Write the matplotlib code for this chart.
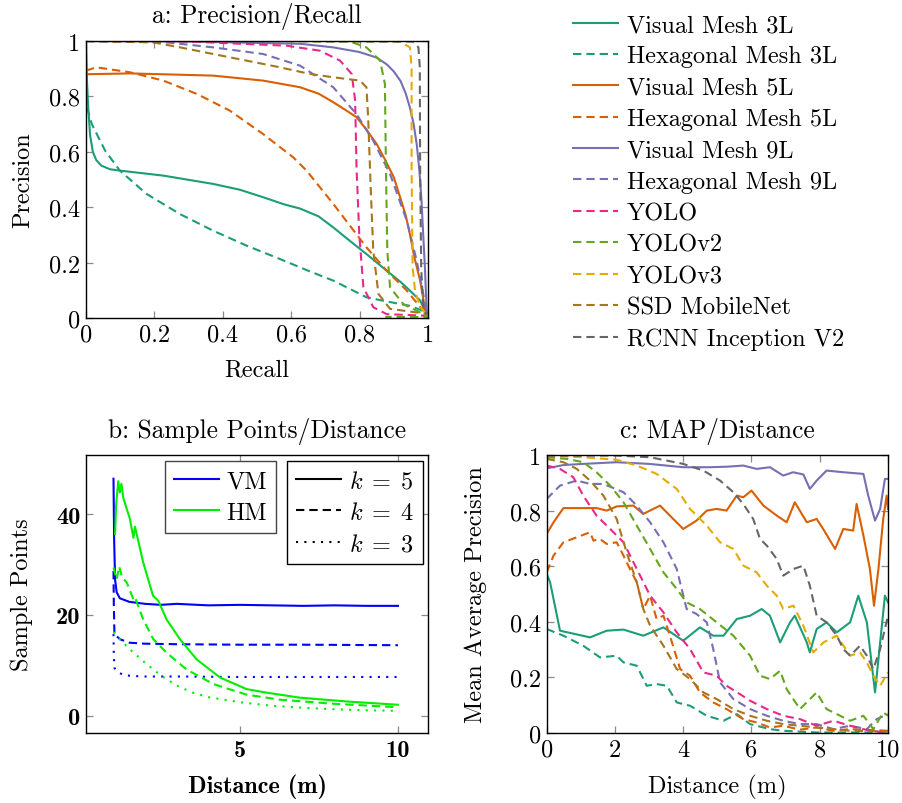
import numpy as np
import matplotlib
matplotlib.use("Agg")
from matplotlib import pyplot as plt

plt.rcParams['font.family'] = ['cmr10', 'DejaVu Serif']
plt.rcParams['mathtext.fontset'] = 'cm'
plt.rcParams['axes.unicode_minus'] = False
plt.rcParams['font.size'] = 17.5

FS = 17.5
FS_TITLE = 18.3

# ---------------- panel a: precision / recall ----------------
pr_vm3_r = [0.0, 0.003, 0.007, 0.012, 0.02, 0.03, 0.045, 0.07, 0.1, 0.226, 0.372, 0.45, 0.518, 0.58, 0.626,
            0.68, 0.723, 0.77, 0.82, 0.879, 0.92, 0.947, 0.977, 0.996]
pr_vm3_p = [1.0, 0.85, 0.75, 0.66, 0.60, 0.57, 0.55, 0.537, 0.532, 0.514, 0.484, 0.463, 0.436, 0.41, 0.395,
            0.367, 0.327, 0.28, 0.231, 0.171, 0.13, 0.099, 0.063, 0.014]
pr_hm3_r = [0.003, 0.017, 0.056, 0.099, 0.177, 0.275, 0.372, 0.47, 0.567, 0.655, 0.723, 0.82, 0.87, 0.947, 0.985]
pr_hm3_p = [0.76, 0.70, 0.604, 0.532, 0.448, 0.375, 0.315, 0.261, 0.213, 0.168, 0.135, 0.075, 0.062, 0.044, 0.026]
pr_vm5_r = [0.0, 0.0, 0.129, 0.372, 0.518, 0.626, 0.68, 0.723, 0.76, 0.791, 0.82, 0.85, 0.875, 0.9, 0.92,
            0.935, 0.947, 0.96, 0.977, 0.994]
pr_vm5_p = [0.95, 0.88, 0.883, 0.875, 0.857, 0.833, 0.81, 0.779, 0.75, 0.725, 0.68, 0.628, 0.57, 0.508, 0.43,
            0.37, 0.303, 0.22, 0.135, 0.014]
pr_hm5_r = [0.0, 0.03, 0.129, 0.226, 0.324, 0.42, 0.518, 0.606, 0.645, 0.723, 0.82, 0.879, 0.938, 0.986]
pr_hm5_p = [0.893, 0.905, 0.887, 0.857, 0.809, 0.749, 0.664, 0.58, 0.532, 0.412, 0.255, 0.171, 0.099, 0.026]
pr_vm9_r = [0.0, 0.3, 0.626, 0.723, 0.80, 0.85, 0.88, 0.90, 0.92, 0.935, 0.947, 0.958, 0.967, 0.975, 0.981,
            0.986, 0.991, 0.994, 0.997]
pr_vm9_p = [1.0, 0.998, 0.99, 0.977, 0.96, 0.94, 0.915, 0.89, 0.855, 0.81, 0.76, 0.70, 0.628, 0.53, 0.424,
            0.30, 0.183, 0.09, 0.014]
pr_hm9_r = [0.0, 0.236, 0.372, 0.518, 0.626, 0.723, 0.791, 0.84, 0.889, 0.938, 0.967, 0.986, 0.996]
pr_hm9_p = [1.0, 0.995, 0.977, 0.953, 0.911, 0.833, 0.736, 0.64, 0.52, 0.351, 0.207, 0.087, 0.02]
pr_yolo_r = [0.0, 0.3, 0.587, 0.684, 0.743, 0.777, 0.787, 0.791, 0.799, 0.811, 0.84, 0.879, 0.996]
pr_yolo_p = [1.0, 0.998, 0.983, 0.965, 0.929, 0.881, 0.785, 0.544, 0.303, 0.111, 0.039, 0.014, 0.008]
pr_yolo2_r = [0.0, 0.5, 0.772, 0.82, 0.86, 0.874, 0.877, 0.881, 0.889, 0.928, 0.977, 1.0, 0.875]
pr_yolo2_p = [1.0, 1.0, 0.998, 0.977, 0.929, 0.845, 0.544, 0.243, 0.111, 0.05, 0.02, 0.004, 0.004]
pr_yolo3_r = [0.0, 0.6, 0.918, 0.947, 0.952, 0.952, 0.955, 0.962, 0.977, 0.996]
pr_yolo3_p = [1.0, 1.0, 0.998, 0.977, 0.905, 0.544, 0.183, 0.099, 0.039, 0.014]
pr_ssd_r = [0.0, 0.197, 0.275, 0.372, 0.47, 0.567, 0.655, 0.723, 0.801, 0.82, 0.825, 0.832, 0.84, 0.855, 0.889, 0.967, 0.996]
pr_ssd_p = [1.0, 0.995, 0.977, 0.953, 0.929, 0.905, 0.881, 0.869, 0.857, 0.833, 0.725, 0.484, 0.243, 0.087, 0.033, 0.02, 0.014]
pr_rcnn_r = [0.0, 0.6, 0.957, 0.972, 0.976, 0.977, 0.98, 0.986, 0.996]
pr_rcnn_p = [1.0, 1.0, 0.998, 0.977, 0.905, 0.544, 0.183, 0.039, 0.014]

# ---------------- panel b: sample points / distance ----------------
sp_vm5_d = [1.0, 1.02, 1.05, 1.1, 1.2, 1.5, 2.0, 2.5, 3.0, 4.0, 5.0, 6.0, 7.0, 8.0, 9.0, 10.0]
sp_vm5_v = [47.0, 35.0, 27.0, 24.5, 23.3, 22.6, 22.2, 22.0, 22.2, 21.9, 22.0, 21.9, 21.8, 21.9, 21.8, 21.8]
sp_vm4_d = [1.0, 1.01, 1.03, 1.1, 1.2, 1.5, 2.0, 3.0, 5.0, 7.0, 10.0]
sp_vm4_v = [28.7, 22.0, 16.2, 15.8, 15.2, 14.5, 14.3, 14.2, 14.1, 14.1, 14.0]
sp_vm3_d = [1.0, 1.01, 1.03, 1.1, 1.3, 1.6, 2.0, 3.0, 5.0, 7.0, 10.0]
sp_vm3_v = [16.2, 12.0, 9.5, 8.9, 8.1, 7.9, 7.8, 7.8, 7.7, 7.7, 7.7]
sp_hm5_d = [1.05, 1.08, 1.15, 1.2, 1.25, 1.31, 1.52, 1.63, 1.68, 1.94, 2.25, 2.42, 2.68, 3.1, 3.63, 4.37, 5.21, 5.84, 6.9, 8.48, 10.0]
sp_hm5_v = [36.0, 41.6, 46.5, 44.3, 46.0, 43.2, 39.0, 35.3, 37.5, 30.4, 23.8, 22.8, 19.1, 15.2, 11.2, 7.6, 5.3, 4.6, 3.6, 2.8, 2.2]
sp_hm4_d = [1.0, 1.1, 1.18, 1.27, 1.42, 1.63, 1.68, 1.94, 2.26, 2.68, 3.31, 4.16, 5.21, 6.27, 7.95, 10.0]
sp_hm4_v = [29.4, 27.0, 29.6, 27.5, 26.4, 23.1, 23.5, 19.1, 15.2, 12.5, 9.2, 6.3, 4.2, 3.2, 2.4, 1.7]
sp_hm3_d = [1.0, 1.2, 1.5, 2.0, 2.5, 3.0, 3.5, 4.0, 5.0, 6.0, 7.0, 8.0, 9.0, 10.0]
sp_hm3_v = [16.6, 15.2, 13.3, 10.5, 8.0, 6.0, 4.6, 3.7, 2.7, 2.0, 1.6, 1.3, 1.1, 1.0]

# ---------------- panel c: MAP / distance ----------------
map_vm3_d = [0, 0.1, 0.39, 1.27, 1.76, 2.25, 2.83, 3.42, 4.0, 4.49, 4.88, 5.18, 5.57, 5.96, 6.3, 6.54, 6.84, 7.13, 7.27, 7.62, 7.71, 7.91, 8.2, 8.5, 8.89, 9.13, 9.38, 9.62, 9.77, 9.91, 10.0]
map_vm3_v = [0.572, 0.542, 0.368, 0.344, 0.368, 0.372, 0.35, 0.38, 0.332, 0.38, 0.35, 0.35, 0.41, 0.422, 0.446, 0.422, 0.326, 0.398, 0.422, 0.326, 0.29, 0.374, 0.398, 0.362, 0.398, 0.494, 0.398, 0.146, 0.326, 0.494, 0.47]
map_hm3_d = [0, 0.49, 1.07, 1.56, 2.05, 2.25, 2.64, 2.93, 3.22, 3.52, 3.81, 4.2, 4.69, 5.18, 5.57, 5.96, 6.54, 6.93, 7.91, 10.0]
map_hm3_v = [0.374, 0.35, 0.314, 0.272, 0.278, 0.254, 0.242, 0.17, 0.176, 0.17, 0.11, 0.098, 0.062, 0.044, 0.068, 0.032, 0.014, 0.008, 0.002, 0.002]
map_vm5_d = [0, 0.2, 0.49, 1.46, 1.76, 2.05, 2.54, 2.83, 3.32, 3.61, 4.0, 4.39, 4.69, 4.98, 5.27, 5.57, 5.76, 6.0, 6.35, 6.74, 7.03, 7.27, 7.62, 7.91, 8.1, 8.45, 8.69, 8.98, 9.08, 9.28, 9.47, 9.59, 9.72, 9.86, 9.96, 10.0]
map_vm5_v = [0.716, 0.758, 0.809, 0.809, 0.80, 0.815, 0.818, 0.788, 0.818, 0.782, 0.734, 0.764, 0.80, 0.806, 0.80, 0.854, 0.848, 0.872, 0.818, 0.782, 0.758, 0.83, 0.758, 0.77, 0.734, 0.662, 0.734, 0.728, 0.824, 0.71, 0.59, 0.458, 0.59, 0.77, 0.854, 0.806]
map_hm5_d = [0, 0.2, 0.49, 1.27, 1.37, 1.56, 1.76, 2.05, 2.25, 2.44, 2.64, 2.83, 3.03, 3.22, 3.42, 3.61, 3.91, 4.2, 4.49, 4.88, 5.27, 5.76, 6.15, 6.54, 6.93, 7.42, 7.91, 8.4, 8.89, 10.0]
map_hm5_v = [0.578, 0.638, 0.686, 0.722, 0.692, 0.698, 0.68, 0.686, 0.638, 0.59, 0.542, 0.446, 0.494, 0.41, 0.422, 0.35, 0.23, 0.206, 0.146, 0.11, 0.086, 0.05, 0.038, 0.02, 0.026, 0.012, 0.02, 0.008, 0.014, 0.008]
map_vm9_d = [0, 0.5, 1.07, 2.05, 3.0, 4.0, 4.78, 5.3, 5.76, 6.15, 6.54, 6.93, 7.22, 7.52, 7.71, 7.91, 8.2, 8.69, 9.28, 9.42, 9.62, 9.77, 9.91, 10.0]
map_vm9_v = [0.952, 0.964, 0.968, 0.974, 0.968, 0.956, 0.956, 0.958, 0.962, 0.95, 0.956, 0.926, 0.938, 0.93, 0.878, 0.908, 0.944, 0.938, 0.932, 0.854, 0.764, 0.806, 0.914, 0.914]
map_hm9_d = [0, 0.39, 0.88, 1.27, 1.66, 2.25, 2.64, 3.03, 3.42, 3.81, 4.1, 4.39, 4.69, 4.88, 5.08, 5.47, 5.96, 6.45, 6.93, 7.42, 7.91, 8.4, 8.89, 9.38, 9.67, 10.0]
map_hm9_v = [0.842, 0.89, 0.908, 0.896, 0.896, 0.866, 0.818, 0.758, 0.686, 0.59, 0.446, 0.428, 0.398, 0.302, 0.182, 0.122, 0.086, 0.062, 0.044, 0.032, 0.032, 0.014, 0.026, 0.014, 0.05, 0.068]
map_yolo_d = [0, 0.39, 0.78, 1.07, 1.46, 1.86, 2.25, 2.64, 3.03, 3.42, 3.81, 4.2, 4.59, 4.98, 5.27, 5.66, 5.96, 6.45, 6.93, 7.42, 7.91, 8.4, 8.89, 9.47, 10.0]
map_yolo_v = [0.962, 0.95, 0.92, 0.854, 0.782, 0.734, 0.686, 0.59, 0.494, 0.434, 0.362, 0.302, 0.218, 0.206, 0.17, 0.14, 0.116, 0.086, 0.062, 0.05, 0.026, 0.044, 0.026, 0.008, 0.002]
map_yolo2_d = [0, 0.59, 1.07, 1.46, 1.86, 2.25, 2.64, 3.03, 3.42, 3.81, 4.1, 4.49, 4.98, 5.47, 5.96, 6.25, 6.54, 6.84, 7.03, 7.42, 7.91, 8.2, 8.5, 8.89, 9.28, 9.57, 9.86, 10.0]
map_yolo2_v = [0.992, 0.986, 0.974, 0.938, 0.89, 0.83, 0.746, 0.662, 0.578, 0.518, 0.47, 0.446, 0.398, 0.35, 0.278, 0.206, 0.194, 0.224, 0.158, 0.086, 0.146, 0.086, 0.068, 0.044, 0.062, 0.014, 0.074, 0.062]
map_yolo3_d = [0, 1.07, 2.05, 2.64, 3.22, 3.81, 4.2, 4.69, 5.08, 5.47, 5.76, 6.15, 6.45, 6.74, 6.93, 7.23, 7.52, 7.81, 8.11, 8.5, 8.89, 9.18, 9.38, 9.57, 9.77, 10.0]
map_yolo3_v = [0.998, 0.992, 0.983, 0.962, 0.932, 0.878, 0.806, 0.746, 0.686, 0.662, 0.602, 0.578, 0.53, 0.494, 0.446, 0.458, 0.386, 0.29, 0.326, 0.35, 0.278, 0.29, 0.254, 0.206, 0.17, 0.218]
map_ssd_d = [0, 0.49, 0.88, 1.27, 1.66, 2.05, 2.34, 2.64, 2.83, 3.03, 3.42, 3.81, 4.2, 4.59, 4.98, 5.47, 5.96, 6.45, 6.93, 7.91, 8.89, 10.0]
map_ssd_v = [0.986, 0.974, 0.95, 0.908, 0.854, 0.77, 0.65, 0.542, 0.446, 0.386, 0.314, 0.23, 0.194, 0.146, 0.122, 0.086, 0.062, 0.044, 0.032, 0.02, 0.008, 0.005]
map_rcnn_d = [0, 2.05, 3.03, 4.0, 4.59, 5.08, 5.47, 5.76, 6.05, 6.25, 6.45, 6.74, 6.93, 7.23, 7.52, 7.71, 7.91, 8.2, 8.5, 8.69, 8.89, 9.18, 9.38, 9.57, 9.77, 10.0]
map_rcnn_v = [0.998, 0.998, 0.992, 0.968, 0.944, 0.908, 0.866, 0.824, 0.77, 0.698, 0.674, 0.626, 0.566, 0.59, 0.602, 0.53, 0.422, 0.398, 0.35, 0.302, 0.278, 0.314, 0.278, 0.23, 0.302, 0.422]

names = ['Visual Mesh 3L', 'Hexagonal Mesh 3L', 'Visual Mesh 5L', 'Hexagonal Mesh 5L',
         'Visual Mesh 9L', 'Hexagonal Mesh 9L', 'YOLO', 'YOLOv2', 'YOLOv3',
         'SSD MobileNet', 'RCNN Inception V2']
colours = ['#1b9e77', '#1b9e77', '#d95f02', '#d95f02', '#7570b3', '#7570b3',
           '#e7298a', '#66a61e', '#e6ab02', '#a6761d', '#666666']
solid = [True, False, True, False, True, False, False, False, False, False, False]

pr_curves = [(pr_vm3_r, pr_vm3_p), (pr_hm3_r, pr_hm3_p), (pr_vm5_r, pr_vm5_p), (pr_hm5_r, pr_hm5_p),
             (pr_vm9_r, pr_vm9_p), (pr_hm9_r, pr_hm9_p), (pr_yolo_r, pr_yolo_p), (pr_yolo2_r, pr_yolo2_p),
             (pr_yolo3_r, pr_yolo3_p), (pr_ssd_r, pr_ssd_p), (pr_rcnn_r, pr_rcnn_p)]
map_curves = [(map_vm3_d, map_vm3_v), (map_hm3_d, map_hm3_v), (map_vm5_d, map_vm5_v), (map_hm5_d, map_hm5_v),
              (map_vm9_d, map_vm9_v), (map_hm9_d, map_hm9_v), (map_yolo_d, map_yolo_v), (map_yolo2_d, map_yolo2_v),
              (map_yolo3_d, map_yolo3_v), (map_ssd_d, map_ssd_v), (map_rcnn_d, map_rcnn_v)]

LW = 1.5
DASH = (4.0, 2.4)
DOT = (1.0, 3.0)
BOLD = ['cmb10', 'DejaVu Serif']


def style_axes(ax, bold=False):
    ax.tick_params(direction='in', top=True, right=True, length=5, width=0.9,
                   color='#8a8a8a', pad=4, labelsize=FS)
    for s in ax.spines.values():
        s.set_linewidth(1.0)
    if bold:
        for lab in ax.get_xticklabels() + ax.get_yticklabels():
            lab.set_family(BOLD)


fig = plt.figure(figsize=(9.02, 8.04), dpi=100)

# panel a
ax_a = fig.add_axes([86 / 902, 1 - 319 / 804, 342 / 902, 277 / 804])
handles = []
for (x, y), c, s, n in zip(pr_curves, colours, solid, names):
    if s:
        h, = ax_a.plot(x, y, color=c, lw=LW, label=n)
    else:
        h, = ax_a.plot(x, y, color=c, lw=LW, dashes=DASH, label=n)
    handles.append(h)
ax_a.set_xlim(0, 1)
ax_a.set_ylim(0, 1)
ticks_a = [0, 0.2, 0.4, 0.6, 0.8, 1]
labels_a = ['0', '0.2', '0.4', '0.6', '0.8', '1']
ax_a.set_xticks(ticks_a, labels_a)
ax_a.set_yticks(ticks_a, labels_a)
style_axes(ax_a)
ax_a.set_title('a: Precision/Recall', pad=13.5, fontsize=FS_TITLE)
ax_a.set_xlabel('Recall', fontsize=FS)
ax_a.set_ylabel('Precision', fontsize=FS)
ax_a.xaxis.set_label_coords(0.5, -0.145)
ax_a.yaxis.set_label_coords(-0.152, 0.5)

fig.legend(handles, names, loc='upper left', bbox_to_anchor=(573 / 902, 1 - 15 / 804),
           frameon=False, borderpad=0, borderaxespad=0, handlelength=1.85,
           handletextpad=0.36, labelspacing=0.38, fontsize=FS)

# panel b
ax_b = fig.add_axes([86 / 902, 1 - 734 / 804, 342 / 902, 278 / 804])
ax_b.plot(sp_vm5_d, sp_vm5_v, color='#0000ff', lw=LW)
ax_b.plot(sp_vm4_d, sp_vm4_v, color='#0000ff', lw=LW, dashes=DASH)
ax_b.plot(sp_vm3_d, sp_vm3_v, color='#0000ff', lw=LW, dashes=DOT)
ax_b.plot(sp_hm5_d, sp_hm5_v, color='#00ee00', lw=LW)
ax_b.plot(sp_hm4_d, sp_hm4_v, color='#00ee00', lw=LW, dashes=DASH)
ax_b.plot(sp_hm3_d, sp_hm3_v, color='#00ee00', lw=LW, dashes=DOT)
ax_b.set_xlim(0.13, 10.95)
ax_b.set_ylim(-3.4, 51.7)
ax_b.set_xticks([5, 10], ['5', '10'])
ax_b.set_yticks([0, 20, 40], ['0', '20', '40'])
style_axes(ax_b, bold=True)
ax_b.set_title('b: Sample Points/Distance', pad=12.8, fontsize=FS_TITLE)
ax_b.set_xlabel('Distance (m)', family=BOLD, fontsize=FS)
ax_b.set_ylabel('Sample Points', fontsize=FS)
ax_b.xaxis.set_label_coords(0.5, -0.147)
ax_b.yaxis.set_label_coords(-0.154, 0.5)

h_vm, = ax_b.plot([], [], color='#0000ff', lw=LW)
h_hm, = ax_b.plot([], [], color='#00ee00', lw=LW)
leg1 = ax_b.legend([h_vm, h_hm], ['VM', 'HM'], loc='upper left', bbox_to_anchor=(0.231, 0.978),
                   borderaxespad=0, fancybox=False, edgecolor='#444444', framealpha=1,
                   handlelength=1.85, handletextpad=0.3, labelspacing=0.38, borderpad=0.38,
                   fontsize=FS)
leg1.get_frame().set_linewidth(1.0)
ax_b.add_artist(leg1)
h_k5, = ax_b.plot([], [], color='black', lw=LW)
h_k4, = ax_b.plot([], [], color='black', lw=LW, dashes=DASH)
h_k3, = ax_b.plot([], [], color='black', lw=LW, dashes=DOT)
leg2 = ax_b.legend([h_k5, h_k4, h_k3], [r'$k\;=\;5$', r'$k\;=\;4$', r'$k\;=\;3$'], loc='upper left',
                   bbox_to_anchor=(0.588, 0.978), borderaxespad=0, fancybox=False,
                   edgecolor='black', framealpha=1, handlelength=1.85, handletextpad=0.3,
                   labelspacing=0.38, borderpad=0.38, fontsize=FS)
leg2.get_frame().set_linewidth(1.0)

# panel c
ax_c = fig.add_axes([546.7 / 902, 1 - 734 / 804, 341.3 / 902, 278 / 804])
for (x, y), c, s in zip(map_curves, colours, solid):
    if s:
        ax_c.plot(x, y, color=c, lw=LW)
    else:
        ax_c.plot(x, y, color=c, lw=LW, dashes=DASH)
ax_c.set_xlim(0, 10)
ax_c.set_ylim(0, 1)
ax_c.set_xticks([0, 2, 4, 6, 8, 10], ['0', '2', '4', '6', '8', '10'])
ax_c.set_yticks(ticks_a, labels_a)
style_axes(ax_c)
ax_c.set_title('c: MAP/Distance', pad=13.2, fontsize=FS_TITLE)
ax_c.set_xlabel('Distance (m)', fontsize=FS)
ax_c.set_ylabel('Mean Average Precision', fontsize=FS)
ax_c.xaxis.set_label_coords(0.5, -0.147)
ax_c.yaxis.set_label_coords(-0.176, 0.5)

fig.savefig('out.png', dpi=100)
plt.close(fig)
